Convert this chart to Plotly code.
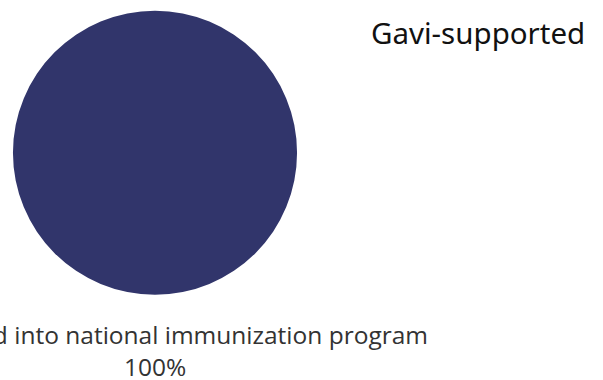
import plotly.graph_objects as go

labels = ["Introduced into national immunization program"]
values = [100]
colors = ["#31356b"]
title_text = "Gavi-supported"

total = sum(values)
label_texts = [f"{l}<br>{round(v / total * 100)}%" for l, v in zip(labels, values)]

W, H = 603, 380

def px(x):
    return x / W

def py(y):
    return 1 - y / H

fig = go.Figure(go.Pie(
    labels=labels,
    values=values,
    marker=dict(colors=colors, line=dict(width=0)),
    textinfo="none",
    sort=False,
    direction="clockwise",
    showlegend=False,
    hoverinfo="label+percent",
    domain=dict(x=[px(13), px(297)], y=[py(295.5), py(10)]),
))

annotations = [
    dict(text=label_texts[0], x=px(155), y=py(350), xref="paper", yref="paper",
         showarrow=False, font=dict(family="Open Sans", size=24.5, color="#333333"),
         align="center", xanchor="center", yanchor="middle"),
    dict(text=title_text, x=px(477.5), y=py(32), xref="paper", yref="paper",
         showarrow=False,
         font=dict(family="Noto Sans", size=29.5, color="#111111"),
         xanchor="center", yanchor="middle"),
]

fig.update_layout(
    width=W, height=H,
    margin=dict(l=0, r=0, t=0, b=0),
    paper_bgcolor="white",
    plot_bgcolor="white",
    annotations=annotations,
)

fig.write_html("out.html", config={"displayModeBar": False},
               post_script="document.body.style.margin='0';")
